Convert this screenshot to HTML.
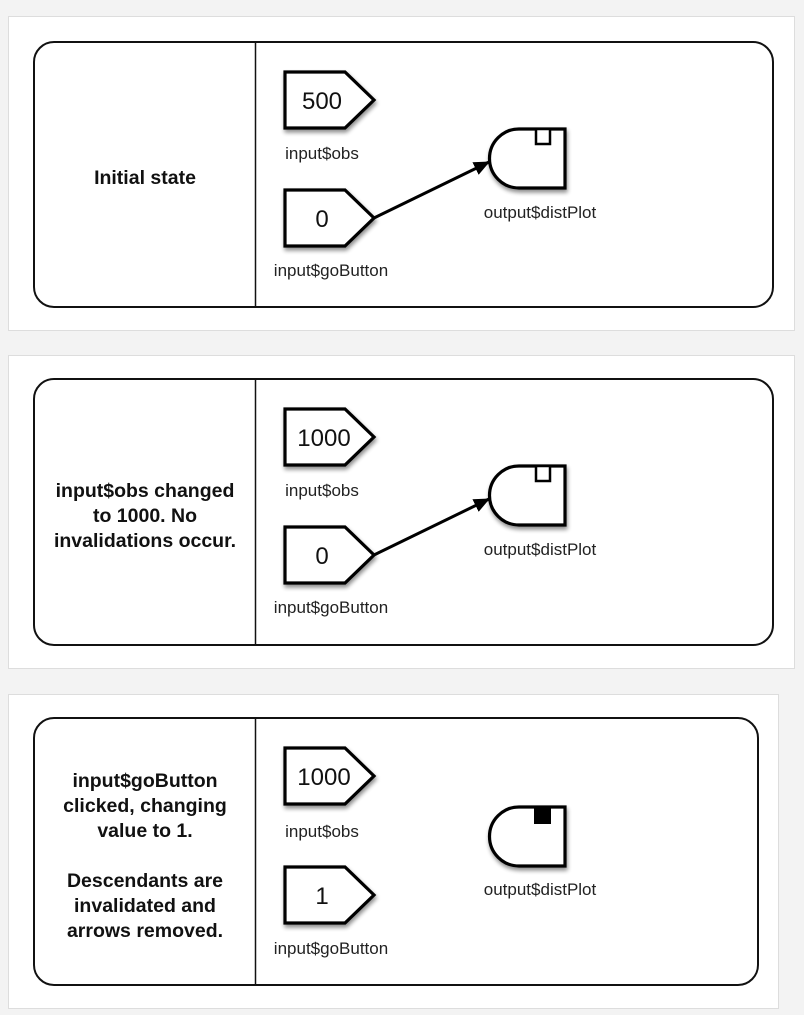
<!DOCTYPE html>
<html><head><meta charset="utf-8">
<style>
html,body{margin:0;padding:0;background:#f3f3f3;}
svg{display:block;}
text{font-family:"Liberation Sans",Arial,sans-serif;fill:#111;}
.lt{font-size:19.5px;font-weight:bold;text-anchor:middle;}
.lb{font-size:17px;text-anchor:middle;fill:#222;}
.nv{font-size:24px;text-anchor:middle;}
.sh{fill:#fff;stroke:#000;stroke-width:3.2;stroke-linejoin:miter;}
</style></head>
<body>
<svg width="804" height="1015" viewBox="0 0 804 1015" xmlns="http://www.w3.org/2000/svg">
<defs>
<filter id="ds" x="-20%" y="-20%" width="150%" height="150%">
<feGaussianBlur in="SourceAlpha" stdDeviation="2"/>
<feOffset dx="1" dy="3" result="o"/>
<feComponentTransfer><feFuncA type="linear" slope="0.45"/></feComponentTransfer>
<feMerge><feMergeNode/><feMergeNode in="SourceGraphic"/></feMerge>
</filter>
<marker id="ah" markerWidth="16" markerHeight="14" refX="15" refY="7" orient="auto" markerUnits="userSpaceOnUse">
<path d="M0,0 L16,7 L0,14 Z" fill="#000"/>
</marker>
</defs>
<rect x="0" y="0" width="804" height="1015" fill="#f3f3f3"/>

<!-- Panel 1 -->
<rect x="8.5" y="16.5" width="786" height="314" fill="#fff" stroke="#ddd"/>
<rect x="34" y="42" width="739" height="265" rx="20" fill="#fff" stroke="#111" stroke-width="2"/>
<line x1="255.5" y1="42" x2="255.5" y2="307" stroke="#111" stroke-width="1.5"/>
<text class="lt" x="145" y="184">Initial state</text>
<g filter="url(#ds)">
<path class="sh" d="M285,72 H345 L374,100 L345,128 H285 Z"/>
<path class="sh" d="M285,190 H345 L374,218 L345,246 H285 Z"/>
<path class="sh" d="M519,129 H565 V188 H519 A29.5,29.5 0 0 1 519,129 Z"/>
</g>
<rect x="536" y="129" width="14" height="15" fill="#fff" stroke="#000" stroke-width="2.5"/>
<text class="nv" x="322" y="109">500</text>
<text class="nv" x="322" y="227">0</text>
<text class="lb" x="322" y="159">input$obs</text>
<text class="lb" x="331" y="276">input$goButton</text>
<text class="lb" x="540" y="218">output$distPlot</text>
<line x1="374" y1="218" x2="489" y2="162" stroke="#000" stroke-width="3" marker-end="url(#ah)"/>

<!-- Panel 2 -->
<rect x="8.5" y="355.5" width="786" height="313" fill="#fff" stroke="#ddd"/>
<rect x="34" y="379" width="739" height="266" rx="20" fill="#fff" stroke="#111" stroke-width="2"/>
<line x1="255.5" y1="379" x2="255.5" y2="645" stroke="#111" stroke-width="1.5"/>
<text class="lt" x="145" y="497">input$obs changed</text>
<text class="lt" x="145" y="522">to 1000. No</text>
<text class="lt" x="145" y="547">invalidations occur.</text>
<g filter="url(#ds)">
<path class="sh" d="M285,409 H345 L374,437 L345,465 H285 Z"/>
<path class="sh" d="M285,527 H345 L374,555 L345,583 H285 Z"/>
<path class="sh" d="M519,466 H565 V525 H519 A29.5,29.5 0 0 1 519,466 Z"/>
</g>
<rect x="536" y="466" width="14" height="15" fill="#fff" stroke="#000" stroke-width="2.5"/>
<text class="nv" x="324" y="446">1000</text>
<text class="nv" x="322" y="564">0</text>
<text class="lb" x="322" y="496">input$obs</text>
<text class="lb" x="331" y="613">input$goButton</text>
<text class="lb" x="540" y="555">output$distPlot</text>
<line x1="374" y1="555" x2="489" y2="499" stroke="#000" stroke-width="3" marker-end="url(#ah)"/>

<!-- Panel 3 -->
<rect x="8.5" y="694.5" width="770" height="314" fill="#fff" stroke="#ddd"/>
<rect x="34" y="718" width="724" height="267" rx="20" fill="#fff" stroke="#111" stroke-width="2"/>
<line x1="255.5" y1="718" x2="255.5" y2="985" stroke="#111" stroke-width="1.5"/>
<text class="lt" x="145" y="787">input$goButton</text>
<text class="lt" x="145" y="812">clicked, changing</text>
<text class="lt" x="145" y="837">value to 1.</text>
<text class="lt" x="145" y="887">Descendants are</text>
<text class="lt" x="145" y="912">invalidated and</text>
<text class="lt" x="145" y="937">arrows removed.</text>
<g filter="url(#ds)">
<path class="sh" d="M285,748 H345 L374,776 L345,804 H285 Z"/>
<path class="sh" d="M285,867 H345 L374,895 L345,923 H285 Z"/>
<path class="sh" d="M519,807 H565 V866 H519 A29.5,29.5 0 0 1 519,807 Z"/>
</g>
<rect x="534" y="806" width="17" height="18" fill="#000"/>
<text class="nv" x="324" y="785">1000</text>
<text class="nv" x="322" y="904">1</text>
<text class="lb" x="322" y="837">input$obs</text>
<text class="lb" x="331" y="954">input$goButton</text>
<text class="lb" x="540" y="895">output$distPlot</text>
</svg>
</body></html>
